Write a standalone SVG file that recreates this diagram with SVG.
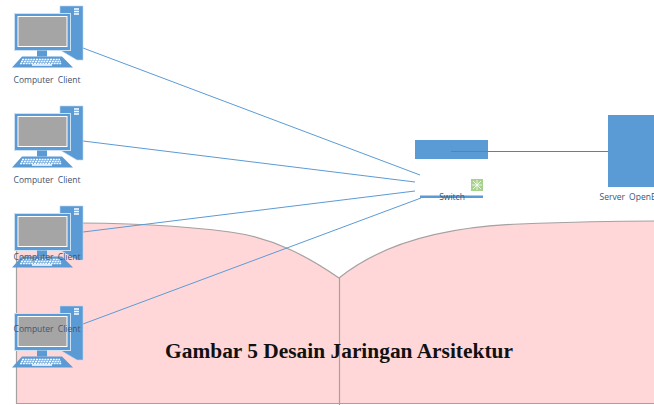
<svg xmlns="http://www.w3.org/2000/svg" width="654" height="405" viewBox="0 0 654 405">
<style>
.lbl{font-family:"Open Sans","Liberation Sans",sans-serif;font-size:8.500px;fill:#3d5573;word-spacing:2px}
.conn{fill:none;stroke:#5b9bd5;stroke-width:1}
.blue{fill:#5b9bd5}
.edge{fill:none;stroke:#a6a0a0;stroke-width:1.200}
</style>
<defs>
<g id="pc">
<path class="blue" d="M60 6H83V60L77 60L60 50Z" stroke="#bdd7ee" stroke-width=".6"/>
<path d="M74 9h5M74 11.500h5M74 14h5" stroke="#fff" stroke-width="1.500" fill="none"/>
<rect class="blue" x="14.500" y="13.500" width="56" height="37" stroke="#cfe2f3" stroke-width="1"/>
<rect x="18" y="16.500" width="49" height="30" fill="#a5a5a5" stroke="#fff" stroke-width="1"/>
<rect class="blue" x="37" y="50.500" width="10" height="6"/>
<path class="blue" d="M22 56.500H62L73 67.500H12Z"/>
<path d="M22 59.500H60M21 61.500H61M20 63.500H62" stroke="#fff" stroke-width="1.300" stroke-dasharray="2 .8" fill="none"/>
<path d="M32 65H52" stroke="#fff" stroke-width="1.500"/>
</g>
</defs>
<g id="background">
<path d="M16.500 223C90 222 170 224 230 232C275 238 310 258 339 278C380 245 440 227 520 224C570 222 620 221 654 221V403.500H16.500Z" fill="#ffd7d8"/>
<path class="edge" d="M16.500 223C90 222 170 224 230 232C275 238 310 258 339 278C380 245 440 227 520 224C570 222 620 221 654 221"/>
<path class="edge" d="M16.500 223V403.500H654"/>
<path class="edge" d="M339.500 278V405"/>
</g>
<g id="connectors">
<path class="conn" d="M83 48L420 175"/>
<path class="conn" d="M83 141L415 182"/>
<path class="conn" d="M83 232L415 191"/>
<path class="conn" d="M83 324L421 198"/>
</g>
<g id="client-1"><use href="#pc"/><text class="lbl" x="47" y="83" text-anchor="middle">Computer Client</text></g>
<g id="client-2"><use href="#pc" y="100"/><text class="lbl" x="47" y="183" text-anchor="middle">Computer Client</text></g>
<g id="client-3"><use href="#pc" y="200"/><text class="lbl" x="47" y="260" text-anchor="middle">Computer Client</text></g>
<g id="client-4"><use href="#pc" y="300"/><text class="lbl" x="47" y="332" text-anchor="middle">Computer Client</text></g>
<g id="switch">
<rect class="blue" x="415" y="140" width="73" height="19"/>
<rect x="471" y="179" width="12" height="12" fill="#a9d18e"/>
<path d="M473 181L481 189M481 181L473 189M477 180V190M472 185H482" stroke="#fff" stroke-width=".8"/>
<rect class="blue" x="420" y="195.500" width="63" height="2.500"/>
<text class="lbl" x="452" y="200" text-anchor="middle">Switch</text>
</g>
<g id="server">
<rect class="blue" x="608" y="115" width="46" height="72"/>
<text class="lbl" x="599.500" y="200">Server OpenE</text>
</g>
<path id="link" d="M451 151.500H608" fill="none" stroke="#4f86b8" stroke-width="1"/>
<text id="caption" x="339" y="358" text-anchor="middle" font-family="Liberation Serif,serif" font-weight="bold" font-size="21.400" fill="#111">Gambar 5 Desain Jaringan Arsitektur</text>
</svg>
